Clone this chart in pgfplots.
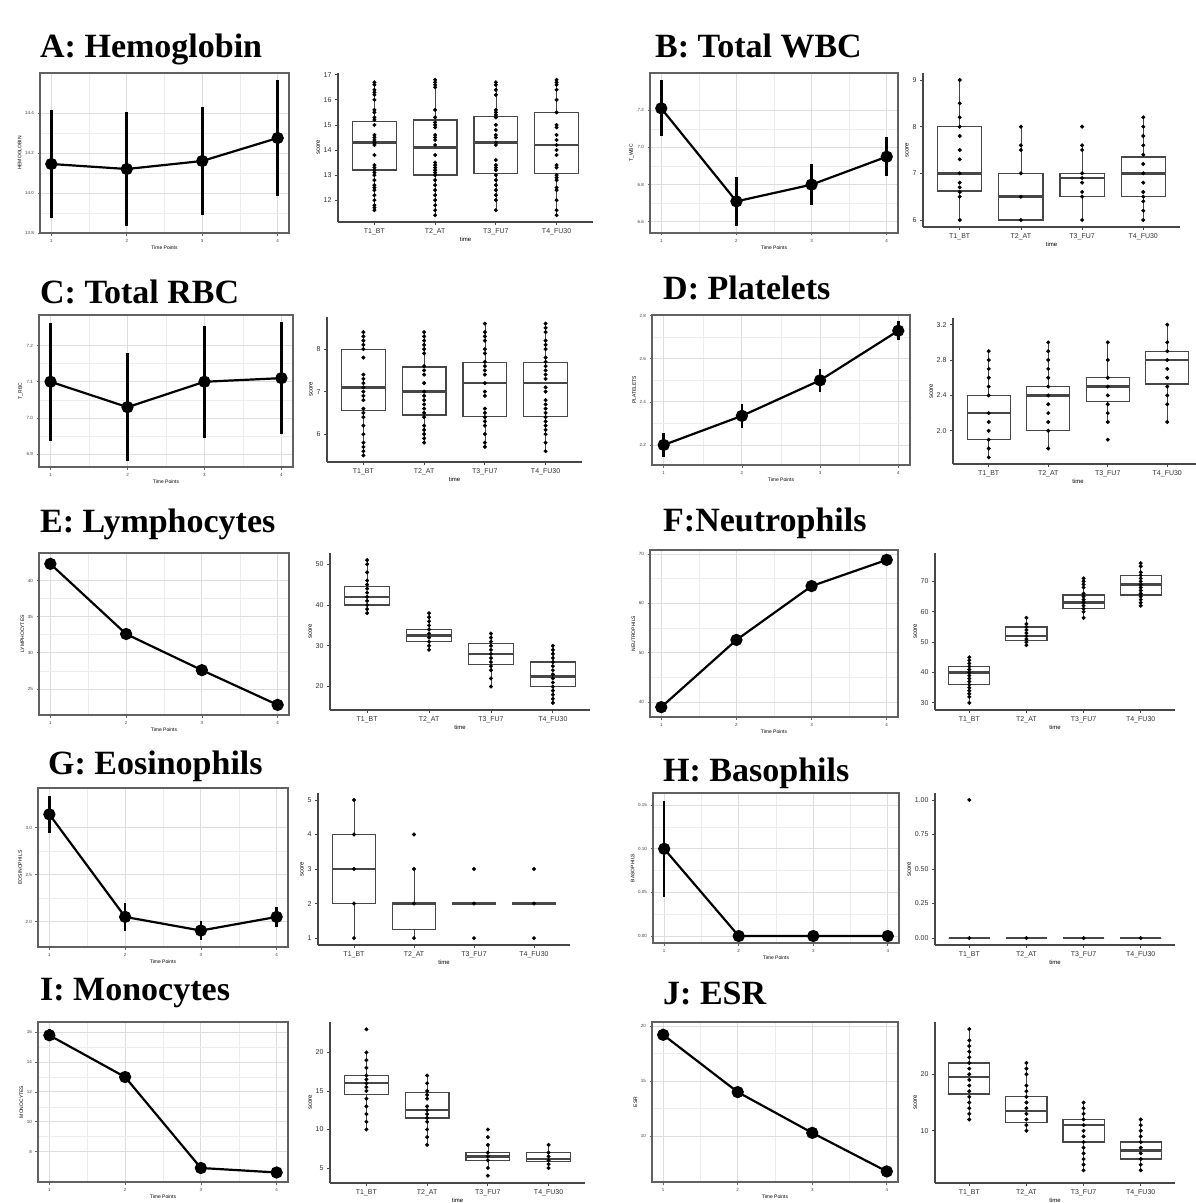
\documentclass[border=0pt]{standalone}
\usepackage{pgfplots}
\pgfplotsset{compat=1.18}
\usepgfplotslibrary{statistics}
\usepackage{fontspec}
\setmainfont{Liberation Sans}
\newfontfamily\titlefont{Liberation Serif}

\pgfplotsset{
  lnp/.style={scale only axis, anchor=north west, xmin=0.85, xmax=4.15,
    xtick={1,2,3,4}, minor x tick num=1, minor y tick num=1, grid=both,
    xtick pos=lower, ytick pos=left,
    major grid style={draw=black!13, line width=0.9pt},
    minor grid style={draw=black!7, line width=0.5pt},
    axis line style={draw=black!62, line width=2.2pt},
    tick style={draw=black!60, line width=0.7pt},
    major tick length=2.5pt, minor tick length=0pt, tick align=outside,
    ticklabel style={font=\fontsize{4.5}{5}\selectfont, text=black!75},
    xlabel={Time Points}, label style={font=\fontsize{5}{6}\selectfont},
    xlabel style={yshift=3pt}, ylabel style={yshift=-3pt},
    /pgf/number format/assume math mode=true},
  lnl/.style={black, line width=2.2pt, mark=*, mark size=5pt, mark options={fill=black},
    error bars/.cd, y dir=both, y explicit, error bar style={line width=2.6pt}, error mark=none},
  bxp/.style={scale only axis, anchor=south west, xmin=0.4, xmax=4.6,
    xtick={1,2,3,4}, xticklabels={T1\_BT,T2\_AT,T3\_FU7,T4\_FU30},
    axis x line*=bottom, axis y line*=left,
    axis line style={draw=black!72, line width=1.3pt, -},
    tick style={draw=black!72, line width=0.8pt}, tick align=outside, major tick length=3pt,
    ticklabel style={font=\fontsize{7}{8}\selectfont, text=black!80},
    xlabel={time}, ylabel={score}, label style={font=\fontsize{6}{7}\selectfont},
    xlabel style={yshift=5pt}, ylabel style={yshift=-3pt},
    /pgf/number format/assume math mode=true},
  boxst/.style={draw=black!72, line width=1.2pt, fill=white, solid,
    boxplot/draw direction=y,
    boxplot/box extend=0.72, boxplot/whisker extend=0,
    boxplot/every median/.style={line width=2.4pt},
    boxplot/every whisker/.style={line width=0.7pt}},
  dt/.style={only marks, mark=*, mark size=1.8pt, black},
}
\newcommand{\bx}[6]{\addplot[boxst, boxplot prepared={draw position=#1, lower whisker=#2, lower quartile=#3, median=#4, upper quartile=#5, upper whisker=#6}] coordinates {};}
\tikzset{ttl/.style={anchor=base west, inner sep=0pt, font=\titlefont\bfseries\fontsize{34}{36}\selectfont}}

\begin{document}
\begin{tikzpicture}
\path[use as bounding box, fill=white] (0,0) rectangle (1196pt,-1203pt);

% titles
\node[ttl] at (40pt,-57pt) {A: Hemoglobin};
\node[ttl] at (655pt,-57pt) {B: Total WBC};
\node[ttl] at (40pt,-303pt) {C: Total RBC};
\node[ttl] at (663pt,-299pt) {D: Platelets};
\node[ttl] at (40pt,-532pt) {E: Lymphocytes};
\node[ttl] at (663pt,-531pt) {F:Neutrophils};
\node[ttl] at (48pt,-774pt) {G: Eosinophils};
\node[ttl] at (663pt,-781pt) {H: Basophils};
\node[ttl] at (40pt,-1000pt) {I: Monocytes};
\node[ttl] at (663pt,-1004pt) {J: ESR};

% ---- A ----
\begin{axis}[lnp, at={(40pt,-73pt)}, width=249pt, height=160pt, ymin=13.80, ymax=14.60,
  ytick={13.8,14.0,14.2,14.4}, ylabel={HEMOGLOBIN},
  yticklabel style={/pgf/number format/.cd, fixed, fixed zerofill, precision=1}]
\addplot[lnl] coordinates {(1,14.145) +- (0,0.27) (2,14.12) +- (0,0.285) (3,14.16) +- (0,0.268) (4,14.275) +- (0,0.29)};
\end{axis}
\begin{axis}[bxp, at={(338pt,-222pt)}, width=255pt, height=149pt, ymin=11.13, ymax=17.07, ytick={12,13,14,15,16,17}]
\bx{1}{11.6}{13.2}{14.3}{15.15}{16.7}
\bx{2}{11.4}{13.0}{14.1}{15.2}{16.8}
\bx{3}{11.6}{13.05}{14.3}{15.35}{16.7}
\bx{4}{11.4}{13.05}{14.2}{15.5}{16.8}
\addplot[dt] coordinates {(1,16.7)(1,16.6)(1,16.4)(1,16.3)(1,16.2)(1,16.0)(1,15.6)(1,15.5)(1,15.3)(1,15.2)(1,15.0)(1,14.6)(1,14.5)(1,14.4)(1,14.3)(1,14.2)(1,13.8)(1,13.4)(1,13.3)(1,13.2)(1,13.1)(1,13.0)(1,12.8)(1,12.6)(1,12.5)(1,12.4)(1,12.2)(1,12.0)(1,11.8)(1,11.7)(1,11.6)
(2,16.8)(2,16.7)(2,16.6)(2,16.5)(2,15.6)(2,15.3)(2,15.1)(2,15.0)(2,14.9)(2,14.6)(2,14.5)(2,14.4)(2,14.2)(2,13.8)(2,13.5)(2,13.4)(2,13.3)(2,13.2)(2,13.1)(2,13.0)(2,12.8)(2,12.6)(2,12.4)(2,12.2)(2,12.0)(2,11.8)(2,11.6)(2,11.4)
(3,16.7)(3,16.6)(3,16.4)(3,16.2)(3,15.6)(3,15.5)(3,15.4)(3,15.3)(3,15.0)(3,14.8)(3,14.6)(3,14.5)(3,14.3)(3,14.2)(3,13.6)(3,13.4)(3,13.3)(3,13.2)(3,13.0)(3,12.8)(3,12.6)(3,12.4)(3,12.2)(3,12.0)(3,11.6)
(4,16.8)(4,16.7)(4,16.6)(4,16.4)(4,16.0)(4,15.5)(4,15.0)(4,14.9)(4,14.6)(4,14.4)(4,14.2)(4,14.0)(4,13.8)(4,13.4)(4,13.3)(4,13.0)(4,12.9)(4,12.8)(4,12.5)(4,12.4)(4,12.0)(4,11.6)(4,11.4)};
\end{axis}

% ---- B ----
\begin{axis}[lnp, at={(650pt,-73pt)}, width=248pt, height=160pt, ymin=6.54, ymax=7.40,
  ytick={6.6,6.8,7.0,7.2}, ylabel={T\_WBC},
  yticklabel style={/pgf/number format/.cd, fixed, fixed zerofill, precision=1}]
\addplot[lnl] coordinates {(1,7.21) +- (0,0.15) (2,6.71) +- (0,0.13) (3,6.80) +- (0,0.11) (4,6.95) +- (0,0.105)};
\end{axis}
\begin{axis}[bxp, at={(923pt,-227pt)}, width=257pt, height=154pt, ymin=5.85, ymax=9.15, ytick={6,7,8,9}]
\bx{1}{6.0}{6.62}{7.0}{8.0}{9.0}
\bx{2}{6.0}{6.0}{6.5}{7.0}{8.0}
\bx{3}{6.0}{6.5}{6.9}{7.0}{7.6}
\bx{4}{6.0}{6.5}{7.0}{7.35}{8.2}
\addplot[dt] coordinates {(1,9)(1,8.5)(1,8.2)(1,8.0)(1,7.8)(1,7.5)(1,7.3)(1,7.0)(1,6.8)(1,6.7)(1,6.6)(1,6.5)(1,6.0)
(2,8.0)(2,7.6)(2,7.5)(2,7.0)(2,6.5)(2,6.0)
(3,8.0)(3,7.6)(3,7.5)(3,7.0)(3,6.9)(3,6.8)(3,6.6)(3,6.5)(3,6.0)
(4,8.2)(4,8.0)(4,7.8)(4,7.6)(4,7.4)(4,7.2)(4,7.0)(4,6.8)(4,6.6)(4,6.5)(4,6.4)(4,6.2)(4,6.0)};
\end{axis}

% ---- C ----
\begin{axis}[lnp, at={(39pt,-315pt)}, width=254pt, height=152pt, ymin=6.865, ymax=7.284,
  ytick={6.9,7.0,7.1,7.2}, ylabel={T\_RBC},
  yticklabel style={/pgf/number format/.cd, fixed, fixed zerofill, precision=1}]
\addplot[lnl] coordinates {(1,7.10) +- (0,0.163) (2,7.03) +- (0,0.148) (3,7.10) +- (0,0.155) (4,7.11) +- (0,0.155)};
\end{axis}
\begin{axis}[bxp, at={(327pt,-462pt)}, width=255pt, height=145pt, ymin=5.345, ymax=8.755, ytick={6,7,8}]
\bx{1}{5.5}{6.55}{7.1}{8.0}{8.4}
\bx{2}{5.8}{6.45}{7.0}{7.58}{8.4}
\bx{3}{5.7}{6.42}{7.2}{7.68}{8.6}
\bx{4}{5.6}{6.42}{7.2}{7.68}{8.6}
\addplot[dt] coordinates {(1,8.4)(1,8.3)(1,8.2)(1,8.1)(1,8.0)(1,7.8)(1,7.4)(1,7.3)(1,7.2)(1,7.1)(1,7.0)(1,6.9)(1,6.8)(1,6.6)(1,6.5)(1,6.4)(1,6.2)(1,6.0)(1,5.8)(1,5.7)(1,5.6)(1,5.5)
(2,8.4)(2,8.3)(2,8.2)(2,8.1)(2,8.0)(2,7.9)(2,7.6)(2,7.5)(2,7.4)(2,7.2)(2,7.0)(2,6.9)(2,6.8)(2,6.7)(2,6.6)(2,6.5)(2,6.4)(2,6.2)(2,6.1)(2,6.0)(2,5.9)(2,5.8)
(3,8.6)(3,8.4)(3,8.3)(3,8.2)(3,8.0)(3,7.9)(3,7.7)(3,7.6)(3,7.5)(3,7.4)(3,7.2)(3,7.0)(3,6.9)(3,6.6)(3,6.5)(3,6.4)(3,6.3)(3,6.2)(3,6.0)(3,5.8)(3,5.7)
(4,8.6)(4,8.5)(4,8.4)(4,8.2)(4,8.1)(4,8.0)(4,7.8)(4,7.7)(4,7.6)(4,7.5)(4,7.4)(4,7.3)(4,7.1)(4,7.0)(4,6.8)(4,6.7)(4,6.6)(4,6.5)(4,6.4)(4,6.3)(4,6.2)(4,6.1)(4,6.0)(4,5.8)(4,5.6)};
\end{axis}

% ---- D ----
\begin{axis}[lnp, at={(652pt,-315pt)}, width=258pt, height=150pt, ymin=2.107, ymax=2.803,
  ytick={2.2,2.4,2.6,2.8}, ylabel={PLATELETS},
  yticklabel style={/pgf/number format/.cd, fixed, fixed zerofill, precision=1}]
\addplot[lnl] coordinates {(1,2.20) +- (0,0.056) (2,2.335) +- (0,0.057) (3,2.50) +- (0,0.052) (4,2.73) +- (0,0.045)};
\end{axis}
\begin{axis}[bxp, at={(953pt,-464pt)}, width=250pt, height=146pt, ymin=1.625, ymax=3.275, ytick={2.0,2.4,2.8,3.2},
  yticklabel style={/pgf/number format/.cd, fixed, fixed zerofill, precision=1}]
\bx{1}{1.7}{1.9}{2.2}{2.4}{2.9}
\bx{2}{1.8}{2.0}{2.4}{2.5}{3.0}
\bx{3}{2.1}{2.33}{2.5}{2.6}{3.0}
\bx{4}{2.1}{2.53}{2.8}{2.9}{3.2}
\addplot[dt] coordinates {(1,2.9)(1,2.8)(1,2.7)(1,2.6)(1,2.5)(1,2.4)(1,2.2)(1,2.1)(1,2.0)(1,1.9)(1,1.8)(1,1.7)
(2,3.0)(2,2.9)(2,2.8)(2,2.7)(2,2.6)(2,2.5)(2,2.4)(2,2.3)(2,2.2)(2,2.1)(2,2.0)(2,1.8)
(3,3.0)(3,2.8)(3,2.6)(3,2.5)(3,2.4)(3,2.3)(3,2.2)(3,2.1)(3,1.9)
(4,3.2)(4,3.0)(4,2.9)(4,2.8)(4,2.7)(4,2.6)(4,2.5)(4,2.4)(4,2.3)(4,2.1)};
\end{axis}

% ---- E ----
\begin{axis}[lnp, at={(39pt,-553pt)}, width=250pt, height=162pt, ymin=21.4, ymax=43.8,
  ytick={25,30,35,40}, ylabel={LYMPHOCYTES}]
\addplot[lnl] coordinates {(1,42.3) +- (0,0.5) (2,32.6) +- (0,0.4) (3,27.6) +- (0,0.4) (4,22.8) +- (0,0.4)};
\end{axis}
\begin{axis}[bxp, at={(330pt,-710pt)}, width=260pt, height=157pt, ymin=14.25, ymax=52.75, ytick={20,30,40,50}]
\bx{1}{38}{40}{42}{44.5}{51}
\bx{2}{29}{31}{32.5}{34}{38}
\bx{3}{20}{25.5}{28}{30.5}{33}
\bx{4}{16}{20}{22.5}{26}{30}
\addplot[dt] coordinates {(1,51)(1,50)(1,48)(1,46)(1,45)(1,44)(1,43)(1,42)(1,41)(1,40)(1,39)(1,38)
(2,38)(2,37)(2,36)(2,35)(2,34)(2,33)(2,32)(2,31)(2,30)(2,29)
(3,33)(3,32)(3,31)(3,30)(3,29)(3,28)(3,27)(3,26)(3,25)(3,24)(3,22)(3,20)
(4,30)(4,29)(4,28)(4,27)(4,26)(4,25)(4,24)(4,23)(4,22)(4,21)(4,20)(4,19)(4,18)(4,17)(4,16)};
\end{axis}

% ---- F ----
\begin{axis}[lnp, at={(650pt,-550pt)}, width=248pt, height=167pt, ymin=37, ymax=70.8,
  ytick={40,50,60,70}, ylabel={NEUTROPHILS}]
\addplot[lnl] coordinates {(1,39.0) +- (0,0.5) (2,52.6) +- (0,0.5) (3,63.5) +- (0,0.5) (4,68.8) +- (0,0.5)};
\end{axis}
\begin{axis}[bxp, at={(935pt,-710pt)}, width=240pt, height=157pt, ymin=27.65, ymax=79.35, ytick={30,40,50,60,70}]
\bx{1}{30}{36}{40}{42}{45}
\bx{2}{49}{50.5}{52}{55}{58}
\bx{3}{58}{61}{63}{65.5}{71}
\bx{4}{62}{65.5}{69}{72}{76}
\addplot[dt] coordinates {(1,45)(1,44)(1,43)(1,42)(1,41)(1,40)(1,39)(1,38)(1,37)(1,36)(1,35)(1,34)(1,33)(1,32)(1,30)
(2,58)(2,56)(2,55)(2,54)(2,53)(2,52)(2,51)(2,50)(2,49)
(3,71)(3,70)(3,69)(3,68)(3,66)(3,65)(3,64)(3,63)(3,62)(3,61)(3,60)(3,58)
(4,76)(4,75)(4,73)(4,72)(4,71)(4,70)(4,69)(4,68)(4,67)(4,66)(4,65)(4,64)(4,63)(4,62)};
\end{axis}

% ---- G ----
\begin{axis}[lnp, at={(38pt,-788pt)}, width=250pt, height=159pt, ymin=1.73, ymax=3.42,
  ytick={2.0,2.5,3.0}, ylabel={EOSINOPHILS},
  yticklabel style={/pgf/number format/.cd, fixed, fixed zerofill, precision=1}]
\addplot[lnl] coordinates {(1,3.14) +- (0,0.2) (2,2.05) +- (0,0.15) (3,1.905) +- (0,0.1) (4,2.05) +- (0,0.11)};
\end{axis}
\begin{axis}[bxp, at={(318pt,-945pt)}, width=252pt, height=152pt, ymin=0.8, ymax=5.2, ytick={1,2,3,4,5}]
\bx{1}{1}{2}{3}{4}{5}
\bx{2}{1}{1.25}{2}{2}{3}
\bx{3}{2}{2}{2}{2}{2}
\bx{4}{2}{2}{2}{2}{2}
\addplot[dt] coordinates {(1,5)(1,4)(1,3)(1,2)(1,1)(2,4)(2,3)(2,2)(2,1)(3,3)(3,2)(3,1)(4,3)(4,2)(4,1)};
\end{axis}

% ---- H ----
\begin{axis}[lnp, at={(653pt,-793pt)}, width=246pt, height=150pt, ymin=-0.008, ymax=0.164,
  ytick={0,0.05,0.10,0.15}, ylabel={BASOPHILS},
  yticklabel style={/pgf/number format/.cd, fixed, fixed zerofill, precision=2}]
\addplot[lnl] coordinates {(1,0.10) +- (0,0.055) (2,0) +- (0,0) (3,0) +- (0,0) (4,0) +- (0,0)};
\end{axis}
\begin{axis}[bxp, at={(935pt,-945pt)}, width=240pt, height=152pt, ymin=-0.05, ymax=1.05, ytick={0,0.25,0.5,0.75,1},
  yticklabel style={/pgf/number format/.cd, fixed, fixed zerofill, precision=2}]
\bx{1}{0}{0}{0}{0}{0}
\bx{2}{0}{0}{0}{0}{0}
\bx{3}{0}{0}{0}{0}{0}
\bx{4}{0}{0}{0}{0}{0}
\addplot[dt] coordinates {(1,1)(1,0)(2,0)(3,0)(4,0)};
\end{axis}

% ---- I ----
\begin{axis}[lnp, at={(38pt,-1022pt)}, width=250pt, height=160pt, ymin=5.96, ymax=16.69,
  ytick={8,10,12,14,16}, ylabel={MONOCYTES}]
\addplot[lnl] coordinates {(1,15.8) +- (0,0.4) (2,13.0) +- (0,0.3) (3,6.9) +- (0,0.2) (4,6.6) +- (0,0.15)};
\end{axis}
\begin{axis}[bxp, at={(330pt,-1183pt)}, width=255pt, height=161pt, ymin=3.05, ymax=23.95, ytick={5,10,15,20}]
\bx{1}{10}{14.5}{16}{17}{20}
\bx{2}{8}{11.5}{12.5}{14.8}{17}
\bx{3}{5}{6}{6.5}{7}{8}
\bx{4}{5}{5.8}{6.2}{7}{8}
\addplot[dt] coordinates {(1,23)(1,20)(1,19)(1,18)(1,17)(1,16.5)(1,16)(1,15.5)(1,15)(1,14)(1,13)(1,12)(1,11)(1,10)
(2,17)(2,16)(2,15)(2,14.5)(2,14)(2,13)(2,12.5)(2,12)(2,11.5)(2,11)(2,10)(2,9)(2,8)
(3,10)(3,9)(3,8)(3,7)(3,6.5)(3,6)(3,5)(3,4)
(4,8)(4,7)(4,6.5)(4,6)(4,5.5)(4,5)};
\end{axis}

% ---- J ----
\begin{axis}[lnp, at={(652pt,-1022pt)}, width=246pt, height=160pt, ymin=5.84, ymax=20.36,
  ytick={10,15,20}, ylabel={ESR}]
\addplot[lnl] coordinates {(1,19.2) +- (0,0.5) (2,14.0) +- (0,0.45) (3,10.3) +- (0,0.35) (4,6.8) +- (0,0.3)};
\end{axis}
\begin{axis}[bxp, at={(935pt,-1183pt)}, width=240pt, height=161pt, ymin=0.75, ymax=29.25, ytick={10,20}]
\bx{1}{12}{16.5}{19.5}{22}{28}
\bx{2}{10}{11.5}{13.5}{16}{22}
\bx{3}{3}{8}{11}{12}{15}
\bx{4}{3}{5}{6.5}{8}{12}
\addplot[dt] coordinates {(1,28)(1,26)(1,25)(1,24)(1,23)(1,22)(1,21)(1,20)(1,19)(1,18)(1,17)(1,16)(1,15)(1,14)(1,13)(1,12)
(2,22)(2,21)(2,20)(2,18)(2,17)(2,16)(2,15)(2,14)(2,13)(2,12)(2,11)(2,10)
(3,15)(3,14)(3,13)(3,12)(3,11)(3,10)(3,9)(3,8)(3,7)(3,6)(3,5)(3,4)(3,3)
(4,12)(4,11)(4,10)(4,9)(4,8)(4,7)(4,6)(4,5)(4,4)(4,3)};
\end{axis}
\end{tikzpicture}
\end{document}
